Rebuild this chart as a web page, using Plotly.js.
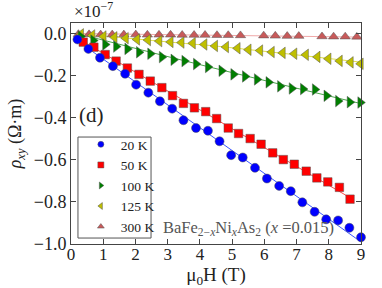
<!DOCTYPE html>
<html>
<head>
<meta charset="utf-8">
<script src="https://cdn.plot.ly/plotly-3.0.1.min.js"></script>
<style>html,body{margin:0;padding:0;background:#fff;}#chart{width:382px;height:288px;}</style>
</head>
<body>
<div id="chart"></div>
<script>
// Values in units of 1e-7 Ω·m
var labels = ["20 K", "50 K", "100 K", "125 K", "300 K"];

var x20 = [0.20,0.54,0.90,1.30,1.68,2.02,2.40,2.76,3.14,3.49,3.88,4.25,4.61,4.97,5.33,5.71,6.08,6.46,6.82,7.18,7.56,7.92,8.29,8.64,9.00];
var y20 = [-0.028,-0.073,-0.115,-0.155,-0.191,-0.243,-0.281,-0.322,-0.357,-0.412,-0.449,-0.462,-0.512,-0.578,-0.589,-0.638,-0.689,-0.724,-0.749,-0.802,-0.847,-0.883,-0.888,-0.923,-0.968];

var x50 = [0.38,0.71,1.06,1.40,1.75,2.11,2.46,2.82,3.15,3.49,3.83,4.18,4.52,4.88,5.20,5.56,5.90,6.26,6.59,6.93,7.30,7.63,7.97,8.33,8.66];
var y50 = [-0.041,-0.065,-0.100,-0.131,-0.164,-0.194,-0.226,-0.257,-0.295,-0.332,-0.353,-0.371,-0.404,-0.449,-0.475,-0.499,-0.526,-0.567,-0.599,-0.621,-0.654,-0.686,-0.705,-0.731,-0.787];

var x100 = [0.30,0.69,1.06,1.40,1.75,2.11,2.46,2.82,3.18,3.52,3.88,4.25,4.67,5.04,5.40,5.77,6.13,6.49,6.85,7.20,7.57,7.93,8.29,8.65,8.98];
var y100 = [-0.014,-0.033,-0.052,-0.062,-0.073,-0.089,-0.096,-0.112,-0.125,-0.131,-0.145,-0.159,-0.177,-0.194,-0.204,-0.218,-0.232,-0.251,-0.261,-0.264,-0.266,-0.296,-0.321,-0.326,-0.328];

var x125 = [0.31,0.66,1.01,1.35,1.70,2.05,2.39,2.74,3.09,3.43,3.78,4.14,4.47,4.81,5.17,5.51,5.87,6.23,6.57,6.93,7.29,7.65,7.99,8.34,8.68,8.99];
var y125 = [-0.004,-0.009,-0.014,-0.018,-0.022,-0.028,-0.031,-0.036,-0.040,-0.043,-0.046,-0.052,-0.059,-0.064,-0.070,-0.077,-0.081,-0.088,-0.092,-0.096,-0.101,-0.111,-0.120,-0.130,-0.137,-0.144];

var x300 = [0.23,0.56,0.92,1.28,1.64,2.01,2.37,2.73,3.09,3.45,3.82,4.16,4.53,4.88,5.26,5.98,6.34,6.71,7.07,7.79,8.15,8.51,8.87];
var y300 = [-0.003,-0.004,-0.005,-0.005,-0.005,-0.005,-0.006,-0.006,-0.006,-0.007,-0.007,-0.007,-0.008,-0.008,-0.009,-0.010,-0.011,-0.012,-0.012,-0.014,-0.015,-0.015,-0.016];

// fit lines
var fx20 = [0.2, 9.0];     var fy20 = [-0.035, -0.990];
var fx50 = [0.32, 8.66];   var fy50 = [-0.033, -0.780];
var fx100 = [0.2, 4.32, 9.0]; var fy100 = [0.0, -0.160, -0.333];
var fx125 = [0.2, 3.75, 4.32, 9.0]; var fy125 = [0.0, -0.050, -0.057, -0.136];
var fx300 = [0.2, 9.0];    var fy300 = [0.0, -0.017];

var xTicks = [0,1,2,3,4,5,6,7,8,9];
var yTicks = [0.0,-0.2,-0.4,-0.6,-0.8,-1.0];

var markerColors = ["#0000ff", "#ff0000", "#007f00", "#bfbf00", "#c85a5a"];
var lineColors = ["#3a55ff", "#ff4b4b", "#4aa84a", "#e0e04a", "#f0a8a8"];
var symbols = ["circle", "square", "triangle-right", "triangle-left", "triangle-up"];
var sizes = [9, 8.5, 10, 10, 9];

var xs = [x20, x50, x100, x125, x300];
var ys = [y20, y50, y100, y125, y300];
var fxs = [fx20, fx50, fx100, fx125, fx300];
var fys = [fy20, fy50, fy100, fy125, fy300];

var data = [];
for (var i = 0; i < 5; i++) {
  data.push({x: fxs[i], y: fys[i], mode: "lines", type: "scatter", showlegend: false, hoverinfo: "skip",
    line: {color: lineColors[i], width: 1, shape: "spline"}});
}
for (var i = 4; i >= 0; i--) {
  data.push({x: xs[i], y: ys[i], mode: "markers", type: "scatter", showlegend: false, cliponaxis: false,
    marker: {symbol: symbols[i], color: markerColors[i], size: sizes[i], line: {color: "#555", width: 0.5}}});
}
// legend entries
for (var i = 0; i < 5; i++) {
  data.push({x: [null], y: [null], mode: "markers", type: "scatter", name: labels[i],
    marker: {symbol: symbols[i], color: markerColors[i], size: 6, line: {color: "#555", width: 0.5}}});
}

var font = "Liberation Serif";
var axisCommon = {
  showline: true, linecolor: "#444", linewidth: 1, mirror: "allticks",
  ticks: "inside", ticklen: 5, tickcolor: "#444", tickwidth: 1,
  showgrid: false, zeroline: false, fixedrange: true,
  tickfont: {family: font, size: 18, color: "#222"}
};

var layout = {
  width: 382, height: 288,
  margin: {l: 71, r: 21, t: 23, b: 44},
  paper_bgcolor: "#fff", plot_bgcolor: "#fff",
  font: {family: font, color: "#222"},
  xaxis: Object.assign({}, axisCommon, {
    range: [0, 9], tickvals: xTicks, ticktext: xTicks.map(String), ticklabelstandoff: -5,
    tickfont: {family: font, size: 17, color: "#222"},
    title: {text: "μ<sub>0</sub>H (T)", font: {family: font, size: 19, color: "#222"}, standoff: 5}
  }),
  yaxis: Object.assign({}, axisCommon, {
    range: [-1.0, 0.05], tickvals: yTicks, tickformat: ".1f",
    title: {text: "<i>ρ</i><sub><i>xy</i></sub> (Ω·m)", font: {family: font, size: 18, color: "#222"}, standoff: 7}
  }),
  legend: {
    x: 0.034, y: 0.52, xanchor: "left", yanchor: "top",
    borderwidth: 0, bgcolor: "rgba(0,0,0,0)",
    font: {family: font, size: 13.5, color: "#222"},
    itemsizing: "trace", tracegroupgap: 0
  },
  shapes: [
    {type: "rect", xref: "paper", yref: "paper", x0: 0.024, x1: 0.276, y0: 0.027, y1: 0.484,
      line: {color: "#555", width: 1}, fillcolor: "#fff", layer: "below"}
  ],
  annotations: [
    {xref: "paper", yref: "paper", x: 0.005, y: 1.0, xanchor: "left", yanchor: "bottom", showarrow: false,
      text: "×10<sup>−7</sup>", font: {family: font, size: 17, color: "#222"}},
    {xref: "paper", yref: "paper", x: 0.021, y: 0.585, xanchor: "left", yanchor: "middle", showarrow: false,
      text: "(d)", font: {family: font, size: 21, color: "#222"}},
    {xref: "paper", yref: "paper", x: 0.31, y: 0.072, xanchor: "left", yanchor: "middle", showarrow: false,
      text: "BaFe<sub>2−<i>x</i></sub>Ni<sub><i>x</i></sub>As<sub>2</sub> (<i>x</i> =0.015)", font: {family: font, size: 16.5, color: "#555"}}
  ]
};

Plotly.newPlot("chart", data, layout, {staticPlot: true, displayModeBar: false});
</script>
</body>
</html>
